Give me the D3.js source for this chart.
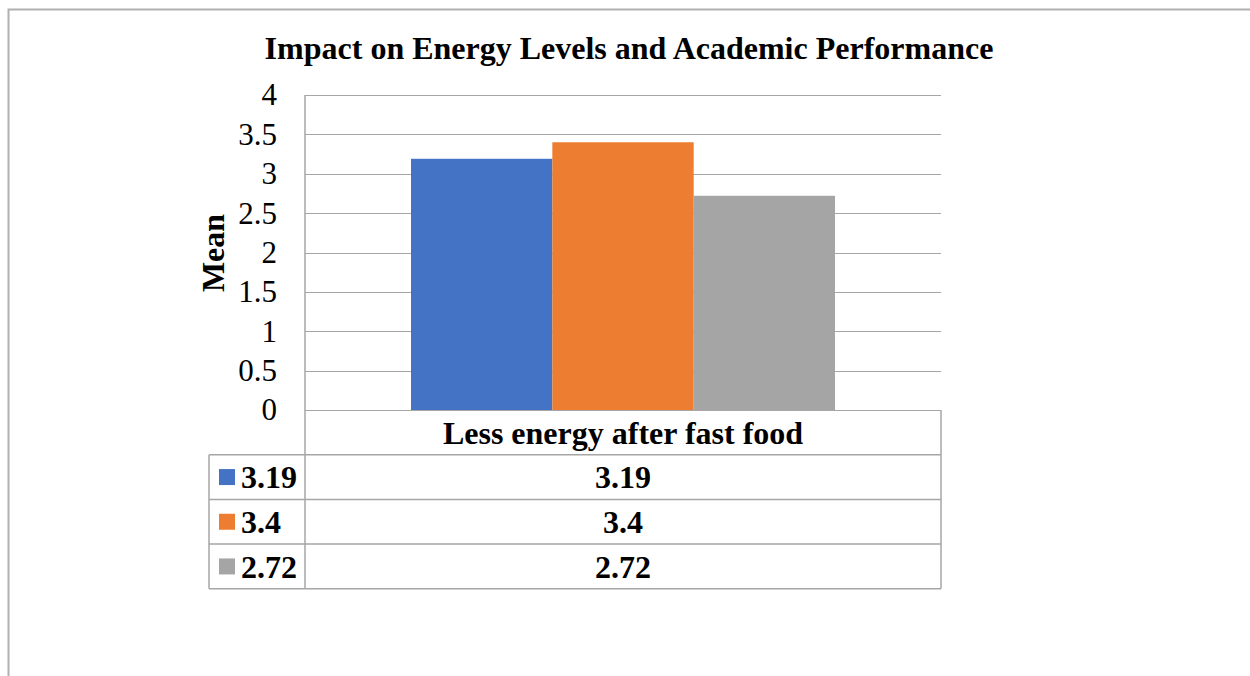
<!DOCTYPE html>
<html>
<head>
<meta charset="utf-8">
<script src="https://cdn.jsdelivr.net/npm/d3@7"></script>
<style>
  body { margin: 0; background: #fff; }
  svg { display: block; font-family: "Liberation Serif", "Times New Roman", serif; }
</style>
</head>
<body>
<svg id="chart" width="1250" height="676"></svg>
<script>
const categories = ['Less energy after fast food'];
const seriesNames = ['3.19', '3.4', '2.72'];
const seriesValues = [3.19, 3.4, 2.72];
const seriesColors = ['#4472C4', '#ED7D31', '#A5A5A5'];
const yTicks = [0, 0.5, 1, 1.5, 2, 2.5, 3, 3.5, 4];

const svg = d3.select('#chart');
const gridColor = '#a6a6a6';
const fs = 32;

// outer frame (left + top only visible)
svg.append('path')
  .attr('d', 'M8.5,676 V9.5 H1250')
  .attr('fill', 'none')
  .attr('stroke', '#b0b0b0')
  .attr('stroke-width', 2);

const plot = { left: 305, right: 941, top: 95, bottom: 410 };

const y = d3.scaleLinear().domain([0, 4]).range([plot.bottom, plot.top]);
const x0 = d3.scaleBand().domain(categories).range([plot.left, plot.right]).paddingInner(0).paddingOuter(0);
const x1 = d3.scaleBand().domain(seriesNames).range([0, x0.bandwidth()]).paddingInner(0).paddingOuter(0.75);

svg.append('text')
  .attr('x', 629)
  .attr('y', 59)
  .attr('text-anchor', 'middle')
  .attr('font-size', fs)
  .attr('font-weight', 'bold')
  .text('Impact on Energy Levels and Academic Performance');

// gridlines
svg.append('g')
  .selectAll('line')
  .data(yTicks)
  .join('line')
  .attr('x1', plot.left)
  .attr('x2', plot.right)
  .attr('y1', d => Math.round(y(d)) + 0.5)
  .attr('y2', d => Math.round(y(d)) + 0.5)
  .attr('stroke', gridColor)
  .attr('stroke-width', 1);

// y axis labels
const yAxis = d3.axisLeft(y).tickValues(yTicks).tickSize(0).tickPadding(0).tickFormat(d3.format('~g'));
const yg = svg.append('g').attr('transform', 'translate(277,0)').call(yAxis);
yg.select('.domain').remove();
yg.selectAll('text')
  .attr('font-family', '"Liberation Serif", serif')
  .attr('font-size', 31)
  .attr('fill', '#000')
  .attr('dy', '0.32em');

svg.append('text')
  .attr('transform', 'translate(224,253) rotate(-90)')
  .attr('text-anchor', 'middle')
  .attr('font-size', fs)
  .attr('font-weight', 'bold')
  .text('Mean');

// bars
const cat = svg.append('g').selectAll('g')
  .data(categories)
  .join('g')
  .attr('transform', d => `translate(${x0(d)},0)`);

cat.selectAll('rect')
  .data(() => seriesNames.map((n, i) => ({ name: n, value: seriesValues[i], color: seriesColors[i] })))
  .join('rect')
  .attr('x', d => x1(d.name))
  .attr('y', d => y(d.value))
  .attr('width', x1.bandwidth())
  .attr('height', d => y(0) - y(d.value))
  .attr('fill', d => d.color);

// data table
const tbl = { left: 209, mid: 305, right: 941, top: 410, rowH: 44.7 };
const rowY = i => tbl.top + tbl.rowH * (i + 1);
const lines = svg.append('g').attr('stroke', gridColor).attr('stroke-width', 1.5).attr('fill', 'none');

lines.append('line').attr('x1', tbl.mid).attr('x2', tbl.mid).attr('y1', plot.top).attr('y2', rowY(seriesNames.length));
lines.append('line').attr('x1', tbl.right).attr('x2', tbl.right).attr('y1', tbl.top).attr('y2', rowY(seriesNames.length));
lines.append('line').attr('x1', tbl.left).attr('x2', tbl.left).attr('y1', rowY(0)).attr('y2', rowY(seriesNames.length));
lines.selectAll('.h')
  .data(d3.range(seriesNames.length + 1))
  .join('line')
  .attr('x1', tbl.left)
  .attr('x2', tbl.right)
  .attr('y1', i => rowY(i))
  .attr('y2', i => rowY(i));

svg.append('text')
  .attr('x', (tbl.mid + tbl.right) / 2)
  .attr('y', tbl.top + tbl.rowH / 2)
  .attr('dy', '0.35em')
  .attr('text-anchor', 'middle')
  .attr('font-size', fs)
  .attr('font-weight', 'bold')
  .text(categories[0]);

seriesNames.forEach((n, i) => {
  const cy = rowY(i) + tbl.rowH / 2;
  svg.append('rect')
    .attr('x', 219).attr('y', cy - 8)
    .attr('width', 16).attr('height', 16)
    .attr('fill', seriesColors[i]);
  svg.append('text')
    .attr('x', 241).attr('y', cy).attr('dy', '0.35em')
    .attr('font-size', fs).attr('font-weight', 'bold')
    .text(n);
  svg.append('text')
    .attr('x', (tbl.mid + tbl.right) / 2).attr('y', cy).attr('dy', '0.35em')
    .attr('text-anchor', 'middle')
    .attr('font-size', fs).attr('font-weight', 'bold')
    .text(d3.format('~g')(seriesValues[i]));
});
</script>
</body>
</html>
